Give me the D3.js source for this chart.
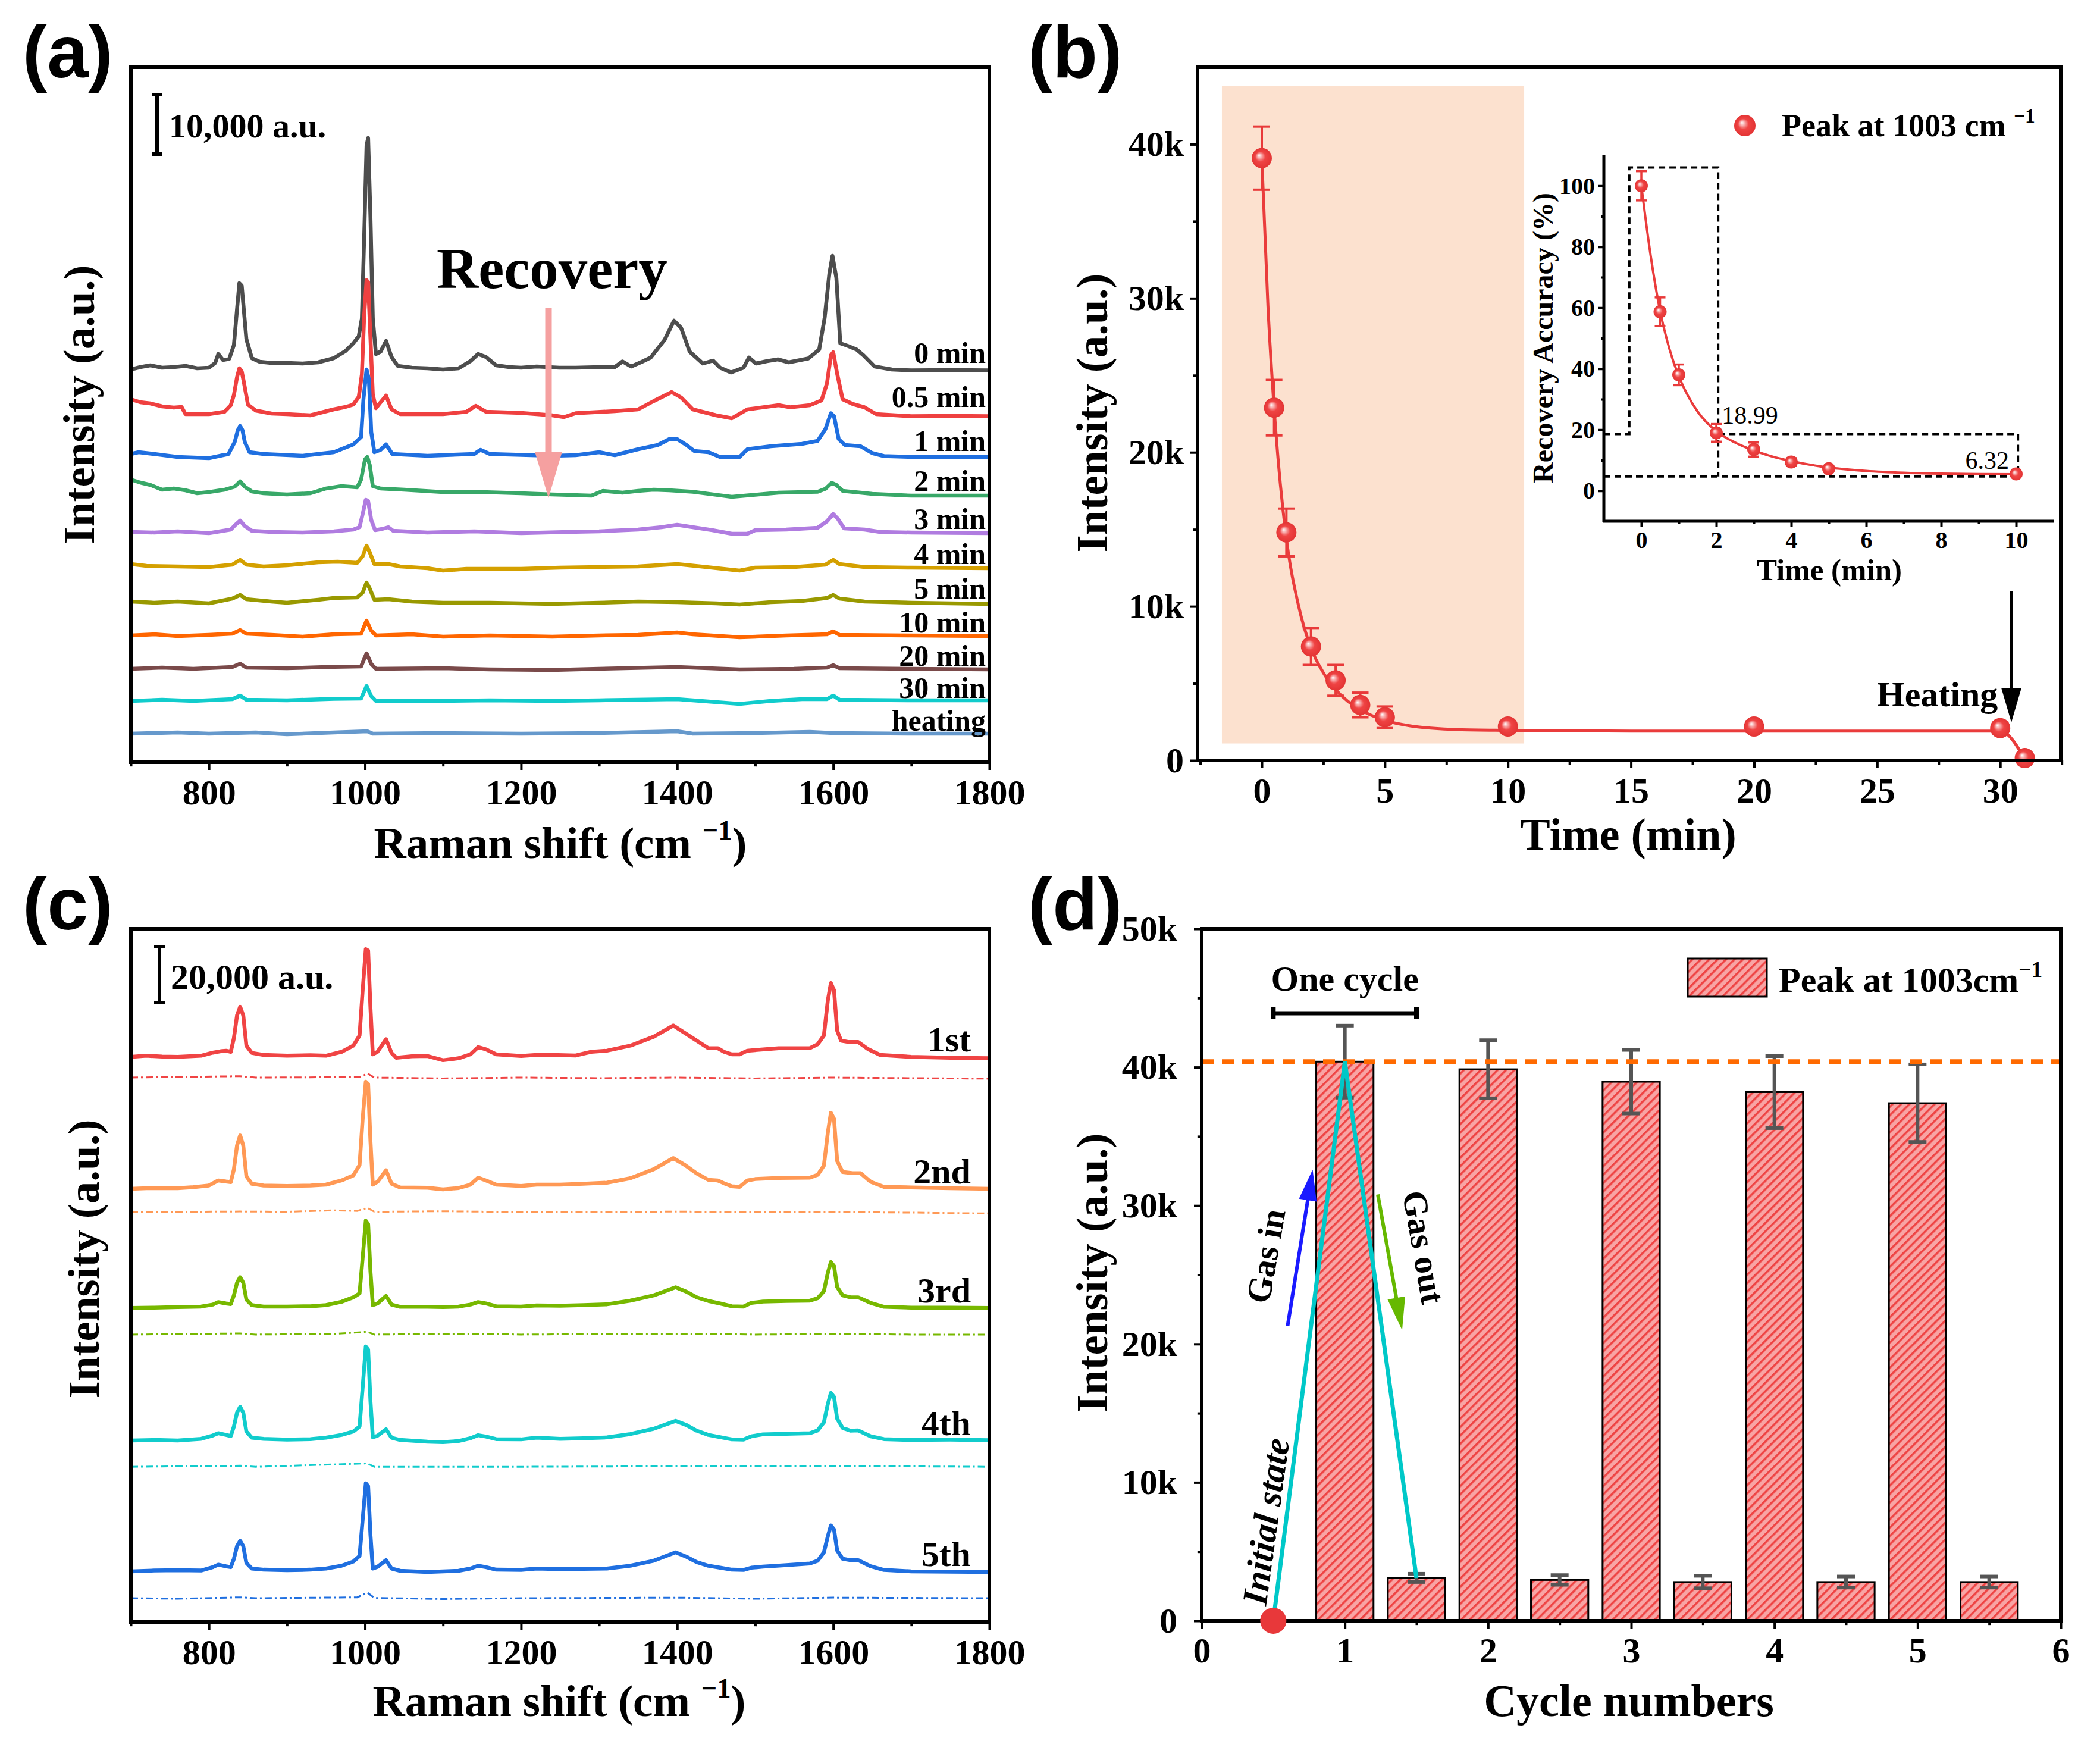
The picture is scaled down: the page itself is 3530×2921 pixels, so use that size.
<!DOCTYPE html>
<html>
<head>
<meta charset="utf-8">
<script src="https://cdn.jsdelivr.net/npm/d3@7"></script>
<style>
body { margin: 0; background: #fff; }
text { font-family: "Liberation Serif", "Times New Roman", serif; font-weight: bold; fill: #000; }
.plabel { font-family: "Liberation Sans", Arial, sans-serif; }
.norm { font-weight: normal; }
.ital { font-style: italic; }
</style>
</head>
<body>
<div id="chart"></div>
<script>
// ---------- panel (a): spectra during recovery, [Raman shift, intensity in k a.u.] ----------
var labelsA = ["0 min", "0.5 min", "1 min", "2 min", "3 min", "4 min", "5 min", "10 min", "20 min", "30 min", "heating"]
var offsetsA = [66.6, 59.2, 51.8, 45.1, 38.7, 32.8, 27.0, 21.3, 15.7, 10.3, 4.8]
var colorsA = ["#4d4d4d", "#ef4040", "#1f6fe0", "#38a868", "#b07ce0", "#d4a000", "#999900", "#ff6600", "#7a4a4a", "#11cccc", "#6699cc"]

var specA0 = [[700,-0.6],[712,-0.2],[725,0.1],[740,-0.3],[755,-0.2],[770,0],[785,-0.4],[800,-0.3],[808,0.5],[812,2.0],[818,1.0],[826,1.2],[832,3.5],[836,9.5],[839,13.9],[842,13.5],[845,9.0],[848,4.5],[855,1.3],[865,0.7],[880,0.5],[900,0.5],[920,0.4],[940,0.6],[960,1.3],[975,2.5],[985,3.8],[992,5.0],[996,8.0],[999,22.0],[1002,37.0],[1004,38.3],[1007,25.0],[1010,8.0],[1014,2.0],[1020,2.4],[1027,4.2],[1034,1.5],[1042,0.0],[1060,-0.3],[1080,-0.4],[1100,-0.6],[1120,-0.4],[1135,0.8],[1145,2.0],[1155,1.5],[1168,0.1],[1185,-0.2],[1200,-0.3],[1220,-0.1],[1249,-0.3],[1270,-0.3],[1300,-0.2],[1320,-0.2],[1330,0.75],[1341,-0.1],[1355,0.7],[1366,1.4],[1384,4.4],[1396,7.6],[1405,6.4],[1416,2.4],[1433,0.4],[1446,0.9],[1455,-0.3],[1469,-1.1],[1485,-0.3],[1492,1.4],[1501,0.4],[1515,0.8],[1529,1.1],[1543,0.6],[1568,1.25],[1582,2.75],[1589,8.1],[1595,15.5],[1599,18.5],[1604,14.8],[1609,3.8],[1618,3.4],[1630,2.75],[1639,1.75],[1653,-0.1],[1675,-0.6],[1700,-0.76],[1750,-0.7],[1800,-0.76]]
var specA05 = [[700,1.8],[712,1.3],[725,1.1],[740,0.6],[755,0.4],[765,0.5],[770,-0.7],[800,-0.7],[820,-0.3],[828,0.8],[832,2.5],[836,5.5],[839,7.0],[842,6.5],[845,4.5],[850,0.9],[860,-0.1],[880,-0.6],[900,-0.7],[930,-0.9],[960,0.1],[975,0.5],[985,0.9],[992,2.2],[996,6.0],[999,16.0],[1002,21.8],[1004,21.5],[1007,12.0],[1010,2.6],[1014,0.3],[1020,1.3],[1027,2.4],[1034,0.1],[1045,-0.7],[1100,-0.7],[1130,-0.3],[1142,0.7],[1155,-0.3],[1200,-0.5],[1240,-0.9],[1255,-1.2],[1270,-0.55],[1320,-0.2],[1350,0.1],[1370,1.5],[1393,3.0],[1405,2.1],[1420,0.1],[1450,-0.9],[1470,-1.4],[1490,0.1],[1530,0.8],[1545,0.45],[1570,0.8],[1585,1.6],[1592,4.5],[1597,9.2],[1600,9.7],[1605,6.1],[1612,1.8],[1625,1.0],[1640,0.45],[1655,-0.7],[1700,-1.05],[1750,-1.0],[1800,-1.05]]
var specA1 = [[700,0],[710,0.3],[730,0],[760,-0.5],[800,-0.7],[825,0],[833,2.0],[837,4.0],[840,4.7],[843,4.0],[846,2.0],[852,0.3],[870,0],[920,-0.3],[960,0.3],[985,1.6],[995,2.85],[998,9.2],[1002,14.2],[1005,12.5],[1008,3.7],[1012,0.3],[1020,0.7],[1027,1.6],[1035,0],[1080,-0.3],[1140,0],[1148,0.7],[1160,0],[1240,-0.3],[1270,-0.2],[1300,0.3],[1320,-0.2],[1350,0.8],[1375,1.5],[1390,2.5],[1400,2.5],[1412,1.5],[1422,0.5],[1440,0.3],[1455,-0.5],[1480,-0.5],[1490,0.8],[1520,1.3],[1560,1.7],[1580,2.2],[1590,4.2],[1597,6.85],[1601,6.35],[1607,2.5],[1615,1.5],[1635,1.3],[1650,0.15],[1665,-0.35],[1700,-0.5],[1800,-0.5]]
var specA2 = [[700,2.4],[712,1.9],[725,1.5],[740,0.7],[755,0.9],[770,0.6],[785,0.1],[800,0.3],[820,0.7],[833,1.2],[840,2.1],[846,1.2],[855,0.4],[870,0.1],[900,-0.1],[930,0.1],[950,0.9],[970,1.3],[990,1.1],[995,2.4],[1000,5.8],[1003,6.2],[1006,4.9],[1010,1.3],[1020,0.9],[1050,0.7],[1100,0.3],[1150,0.3],[1200,0.1],[1240,-0.1],[1290,-0.3],[1305,0.5],[1330,0.2],[1350,0.5],[1370,0.7],[1390,0.6],[1420,0.35],[1450,-0.16],[1470,-0.5],[1500,-0.16],[1530,0.2],[1580,0.35],[1590,0.85],[1598,1.85],[1604,1.5],[1612,0.5],[1650,0],[1700,-0.3],[1800,-0.3]]
var specA3 = [[700,0],[730,-0.1],[760,0.1],[800,-0.2],[828,0.4],[834,1.2],[840,1.9],[846,1.0],[855,0.2],[880,0],[920,-0.1],[960,0.1],[985,0.4],[993,0.8],[997,3.0],[1001,5.4],[1004,5.2],[1008,2.0],[1013,0.3],[1022,0.5],[1030,0.8],[1036,0.2],[1080,-0.1],[1140,0.1],[1200,-0.2],[1260,0],[1300,0.1],[1350,0.4],[1380,0.8],[1400,1.2],[1420,0.8],[1445,0.3],[1470,-0.3],[1490,-0.3],[1500,0.3],[1540,0.4],[1580,0.7],[1592,1.8],[1600,3.0],[1606,2.2],[1614,0.6],[1640,0.4],[1660,0],[1700,-0.1],[1800,-0.2]]
var specA4 = [[700,0.5],[720,0.2],[760,0.1],[800,0],[830,0.4],[840,1.2],[848,0.4],[870,0.1],[900,0.3],[940,0.8],[965,0.9],[990,0.7],[997,1.8],[1002,3.6],[1006,2.5],[1012,0.5],[1030,0.5],[1045,0.1],[1080,-0.2],[1100,-0.6],[1130,-0.3],[1200,-0.3],[1250,-0.1],[1300,0],[1350,0.1],[1400,0.5],[1430,0.1],[1480,-0.6],[1500,-0.1],[1550,0],[1590,0.4],[1600,1.2],[1608,0.5],[1640,0],[1700,-0.1],[1800,-0.2]]
var specA5 = [[700,0],[730,-0.2],[760,0],[800,-0.3],[830,0.5],[840,1.1],[848,0.4],[880,0],[900,-0.2],[940,0.3],[960,0.6],[990,0.7],[997,1.5],[1002,3.2],[1006,2.2],[1012,0.3],[1030,0.4],[1060,0],[1100,-0.2],[1160,-0.2],[1240,-0.4],[1300,-0.2],[1350,0],[1400,-0.1],[1450,-0.3],[1480,-0.5],[1520,-0.1],[1560,0.1],[1592,0.6],[1600,1.1],[1608,0.5],[1640,0],[1700,-0.2],[1800,-0.4]]
var specA10 = [[700,0],[730,0.2],[760,-0.1],[800,0.1],[830,0.3],[840,0.9],[848,0.3],[880,0.1],[920,-0.2],[960,0.2],[995,0.3],[1002,2.5],[1008,0.8],[1014,0],[1060,0.2],[1100,-0.2],[1160,0],[1240,-0.2],[1300,0],[1350,0.1],[1400,0.5],[1420,0.2],[1480,-0.3],[1540,0],[1592,0.2],[1600,0.7],[1608,0.1],[1700,0],[1800,-0.1]]
var specA20 = [[700,0],[740,0.2],[780,0],[830,0.3],[840,0.85],[848,0.2],[900,0.1],[950,0.3],[995,0.4],[1002,2.6],[1008,0.8],[1014,0],[1100,0.1],[1160,-0.1],[1240,-0.2],[1300,0],[1400,0.3],[1480,-0.1],[1550,0],[1592,0.2],[1600,0.6],[1608,0.1],[1700,0],[1800,-0.1]]
var specA30 = [[700,0],[740,0.2],[780,0],[830,0.3],[840,0.9],[848,0.2],[900,0.1],[960,0.35],[995,0.4],[1002,2.5],[1008,0.8],[1014,0],[1100,0],[1160,0.1],[1240,0],[1300,0.1],[1400,0.3],[1480,-0.5],[1520,0],[1560,0.3],[1592,0.3],[1600,0.9],[1608,0.2],[1700,0.1],[1800,0.1]]
var specAheat = [[700,0],[760,0.2],[800,0],[860,0.2],[900,-0.1],[960,0.2],[1003,0.4],[1010,0],[1100,0.1],[1200,0],[1300,0.1],[1400,0.4],[1420,0],[1500,0.1],[1570,0.3],[1600,0.1],[1700,0],[1800,0]]
var seriesA = [specA0, specA05, specA1, specA2, specA3, specA4, specA5, specA10, specA20, specA30, specAheat]

// ---------- panel (b): peak intensity vs time ----------
var timeB = [0, 0.5, 1, 2, 3, 4, 5, 10, 20, 30, 31]
var intensityB = [39.1, 22.9, 14.8, 7.4, 5.2, 3.6, 2.8, 2.2, 2.2, 2.1, 0.15]
var errorB = [2.05, 1.8, 1.55, 1.2, 1.0, 0.8, 0.7, 0.35, 0.35, 0.35, 0]
var fitTimeB = [0, 0.25, 0.5, 0.75, 1, 1.5, 2, 2.5, 3, 4, 5, 6, 8, 10, 15, 20, 25, 30, 31]
var fitValueB = [39.1, 29.5, 22.9, 18.0, 14.4, 10.0, 7.3, 5.7, 4.6, 3.3, 2.6, 2.25, 2.0, 1.95, 1.9, 1.9, 1.9, 1.9, 0.1]
var shadeB = [-1.62, 10.66, 1.1, 43.8]   // time from, time to, k from, k to

// inset: recovery accuracy
var timeI = [0, 0.5, 1, 2, 3, 4, 5, 10]
var accuracyI = [100, 58.7, 38.0, 18.99, 13.5, 9.4, 7.2, 5.5]
var errorI = [4.8, 4.7, 3.4, 2.9, 2.3, 1.3, 1.0, 0.8]
var fitTimeI = [0, 0.25, 0.5, 0.75, 1, 1.25, 1.5, 2, 2.5, 3, 3.5, 4, 5, 6, 7, 8, 9, 10]
var fitValueI = [100, 77, 59, 46.5, 37.5, 31, 26, 19.5, 15.8, 13.2, 11.2, 9.7, 7.6, 6.5, 5.9, 5.6, 5.45, 5.4]
var guideI = [[[-1,18.6],[-0.32,18.6],[-0.32,106],[2.05,106],[2.05,4.7]], [[2.05,18.6],[10.05,18.6],[10.05,4.7]], [[-1,4.7],[10.05,4.7]]]

// ---------- panel (c): five cycles ----------
var labelsC = ["1st", "2nd", "3rd", "4th", "5th"]
var offsetsC = [202.1, 154.9, 112.3, 64.9, 18.1]
var dotOffsetsC = [194.7, 146.6, 102.8, 55.5, 8.5]
var colorsC = ["#f04444", "#ff9955", "#77b800", "#11cccc", "#1f6fe0"]

var specC1 = [[700,0],[720,0.4],[740,0.1],[760,0],[790,0.4],[805,1.5],[815,2.0],[822,2.2],[828,1.8],[832,6.7],[836,14.8],[840,17.9],[844,14.8],[848,4.0],[855,1.4],[870,0.7],[900,0.4],[930,0.6],[950,0.4],[970,1.8],[985,4.0],[993,7.6],[997,23.8],[1001,38.5],[1004,38.0],[1007,17.5],[1010,0.9],[1016,1.8],[1027,6.3],[1034,1.4],[1040,-0.3],[1060,0.2],[1080,0.3],[1100,-1.2],[1120,-0.5],[1135,0.9],[1145,3.5],[1155,2.7],[1168,0.9],[1200,0.3],[1220,0.7],[1240,0.7],[1270,0.5],[1290,1.8],[1310,2.2],[1340,4.0],[1370,7.2],[1395,11.2],[1410,8.5],[1425,5.8],[1440,3.1],[1452,3.1],[1460,1.8],[1470,0.9],[1480,0.9],[1490,2.2],[1530,3.1],[1570,3.1],[1580,4.5],[1588,7.6],[1593,20.1],[1597,26.4],[1601,23.8],[1605,9.4],[1610,5.8],[1620,5.3],[1632,5.3],[1645,2.7],[1660,0.7],[1700,0],[1750,-0.3],[1800,-0.5]]
var specC2 = [[700,0],[720,0.2],[740,0.3],[760,0.2],[780,0.6],[800,1.2],[812,3.0],[822,2.6],[828,2.4],[832,7.0],[836,15.5],[840,19.1],[844,15.5],[848,4.5],[855,1.8],[870,1.2],[900,1.0],[930,1.2],[950,1.5],[970,3.0],[985,4.8],[993,8.5],[997,25.0],[1001,38.3],[1004,37.5],[1007,17.0],[1010,1.5],[1016,2.5],[1027,6.6],[1034,1.8],[1045,0.5],[1080,0.4],[1100,-0.2],[1120,0.3],[1135,1.5],[1145,4.0],[1155,3.0],[1168,1.5],[1200,1.0],[1220,1.5],[1250,1.5],[1280,1.8],[1310,2.2],[1340,3.8],[1370,7.0],[1395,11.0],[1410,8.5],[1425,5.5],[1440,3.2],[1452,3.0],[1460,2.0],[1470,0.9],[1480,0.7],[1490,3.0],[1500,3.5],[1530,3.9],[1570,4.0],[1580,5.0],[1588,8.3],[1593,20.0],[1597,27.2],[1601,25.0],[1605,10.0],[1612,6.0],[1625,5.6],[1635,5.6],[1648,2.5],[1665,0.7],[1700,0.5],[1750,0.2],[1800,0.0]]
var specC3 = [[700,0],[730,0.1],[760,0.3],[790,0.5],[805,1.2],[812,2.1],[822,1.6],[828,1.4],[832,4.5],[836,9.0],[840,11.0],[844,9.0],[848,3.0],[855,1.0],[870,0.5],[900,0.5],[930,0.6],[950,1.0],[970,2.2],[985,3.8],[993,5.2],[997,18.0],[1001,31.2],[1004,30.0],[1007,13.0],[1010,1.0],[1016,1.6],[1027,4.3],[1034,1.2],[1045,0.4],[1080,0.4],[1100,0.3],[1120,0.5],[1135,1.2],[1145,2.1],[1155,1.6],[1168,0.6],[1200,0.5],[1220,0.9],[1250,0.8],[1280,1.0],[1310,1.3],[1340,2.6],[1370,4.5],[1398,7.4],[1412,5.8],[1425,3.8],[1440,2.5],[1455,1.6],[1470,0.6],[1485,0.5],[1495,1.8],[1510,2.3],[1540,2.5],[1570,2.6],[1580,3.5],[1588,6.0],[1593,12.5],[1597,16.4],[1601,15.0],[1605,7.5],[1612,4.5],[1622,3.8],[1632,3.8],[1648,1.8],[1665,0.4],[1700,0.1],[1750,0.1],[1800,0]]
var specC4 = [[700,0],[730,0.2],[760,0.0],[790,0.6],[805,1.8],[812,2.6],[822,2.0],[828,1.6],[832,5.0],[836,10.0],[840,12.0],[844,10.0],[848,3.2],[855,1.0],[870,0.6],[900,0.3],[930,0.5],[950,1.0],[970,2.0],[985,3.2],[993,5.0],[997,19.0],[1001,33.6],[1004,32.5],[1007,14.0],[1010,1.2],[1016,1.7],[1027,4.0],[1034,1.0],[1045,0.2],[1080,-0.4],[1100,-0.6],[1120,-0.2],[1135,0.8],[1145,1.9],[1155,1.4],[1168,0.5],[1200,0.4],[1220,1.0],[1250,0.6],[1280,0.8],[1310,1.1],[1340,2.3],[1370,4.2],[1398,7.0],[1412,5.5],[1425,3.5],[1440,2.0],[1455,1.2],[1470,0.4],[1485,0.3],[1495,1.5],[1510,2.2],[1540,2.4],[1570,2.6],[1580,3.6],[1588,6.5],[1593,13.0],[1597,17.0],[1601,15.6],[1605,7.8],[1612,4.5],[1622,3.5],[1632,3.6],[1648,1.5],[1665,0.5],[1700,0.2],[1750,0.3],[1800,0.1]]
var specC5 = [[700,0],[730,0.3],[760,0.4],[790,0.3],[805,1.5],[812,2.4],[822,1.8],[828,1.5],[832,4.5],[836,9.0],[840,10.9],[844,9.0],[848,3.0],[855,1.0],[870,0.6],[900,0.4],[930,0.6],[950,1.0],[970,2.0],[985,3.5],[993,5.5],[997,18.5],[1001,31.5],[1004,30.5],[1007,13.0],[1010,1.0],[1016,1.6],[1027,4.0],[1034,1.0],[1045,0.2],[1080,-0.2],[1100,0.0],[1120,0.2],[1135,1.0],[1145,2.0],[1155,1.5],[1168,0.6],[1200,0.5],[1220,1.0],[1250,0.8],[1280,0.9],[1310,1.0],[1340,2.0],[1370,3.8],[1398,6.8],[1412,5.2],[1425,3.3],[1440,2.0],[1455,1.3],[1470,0.6],[1485,0.5],[1495,1.3],[1510,1.7],[1540,2.2],[1570,2.8],[1580,3.8],[1588,6.8],[1593,12.5],[1597,16.4],[1601,15.0],[1605,7.5],[1612,4.5],[1622,4.0],[1632,4.0],[1648,1.8],[1665,0.5],[1700,0.0],[1750,-0.1],[1800,-0.2]]
var dotC1 = [[700,0],[760,0.2],[840,0.5],[860,0],[950,0.1],[995,0.3],[1003,1.5],[1012,0],[1100,-0.3],[1200,0],[1300,-0.2],[1400,0],[1500,-0.3],[1600,0],[1700,-0.2],[1800,-0.4]]
var dotC2 = [[700,0],[760,0.1],[840,0.2],[900,0.1],[960,0.6],[990,0.4],[1003,1.5],[1012,0.1],[1100,0.3],[1200,0],[1300,-0.1],[1400,0.2],[1500,-0.1],[1600,0],[1700,-0.2],[1800,-0.5]]
var dotC3 = [[700,0],[840,0.4],[860,0],[960,0.2],[1003,1.0],[1012,0],[1145,0.3],[1200,0],[1400,0.3],[1500,0],[1600,0.2],[1700,0],[1800,0]]
var dotC4 = [[700,0],[840,0.4],[860,0],[1003,1.2],[1012,0],[1200,0],[1400,0.2],[1600,0.3],[1800,0]]
var dotC5 = [[700,0],[760,-0.2],[840,0.3],[860,0],[990,0.3],[1003,2.0],[1012,0.1],[1100,-0.3],[1200,0],[1400,0.2],[1500,-0.2],[1600,0.2],[1800,0]]
var seriesC = [specC1, specC2, specC3, specC4, specC5]
var dotsC = [dotC1, dotC2, dotC3, dotC4, dotC5]

// ---------- panel (d): cycle bars ----------
var cycleX = [1, 1.5, 2, 2.5, 3, 3.5, 4, 4.5, 5, 5.5]
var cycleValue = [40.4, 3.1, 39.85, 2.95, 38.95, 2.8, 38.2, 2.8, 37.4, 2.8]
var cycleError = [2.6, 0.3, 2.1, 0.35, 2.3, 0.45, 2.6, 0.4, 2.8, 0.4]
var cyclePath = [[0.5, 0], [1, 40.4], [1.5, 3.1]]
var refLevelD = 40.4

// ---------- drawing ----------
var svg = d3.select("#chart").append("svg")
    .attr("width", 3530)
    .attr("height", 2921)
    .style("background", "#fff")

var defs = svg.append("defs")
var pat = defs.append("pattern").attr("id", "hatch")
    .attr("patternUnits", "userSpaceOnUse").attr("width", 10).attr("height", 10)
    .attr("patternTransform", "rotate(45)")
pat.append("rect").attr("width", 10).attr("height", 10).attr("fill", "#f8a4a4")
pat.append("rect").attr("width", 3.5).attr("height", 10).attr("fill", "#ee4444")

var ball = defs.append("radialGradient").attr("id", "ball")
    .attr("cx", "50%").attr("cy", "50%").attr("r", "50%").attr("fx", "36%").attr("fy", "36%")
ball.append("stop").attr("offset", "0%").attr("stop-color", "#ffffff")
ball.append("stop").attr("offset", "22%").attr("stop-color", "#f8aaaa")
ball.append("stop").attr("offset", "50%").attr("stop-color", "#ef4444")
ball.append("stop").attr("offset", "100%").attr("stop-color", "#e33434")

function frame(b) {
  svg.append("rect").attr("x", b.l).attr("y", b.t).attr("width", b.r - b.l).attr("height", b.b - b.t)
    .attr("fill", "none").attr("stroke", "#000").attr("stroke-width", 6)
}

function tidy(s, fs) {
  s.attr("font-family", null).attr("font-size", fs)
  s.select(".domain").remove()
  s.selectAll("line").attr("stroke", "#000").attr("stroke-width", 4)
}

function bottomAxis(scale, y, major, minor, fmt, fs, len, pad) {
  svg.append("g").attr("transform", "translate(0," + y + ")")
    .call(d3.axisBottom(scale).tickValues(minor).tickSize(len * 0.55).tickFormat(""))
    .call(tidy, fs)
  svg.append("g").attr("transform", "translate(0," + y + ")")
    .call(d3.axisBottom(scale).tickValues(major).tickSize(len).tickPadding(pad).tickFormat(fmt))
    .call(tidy, fs)
}

function leftAxis(scale, x, major, minor, fmt, fs, len, pad) {
  svg.append("g").attr("transform", "translate(" + x + ",0)")
    .call(d3.axisLeft(scale).tickValues(minor).tickSize(len * 0.55).tickFormat(""))
    .call(tidy, fs)
  svg.append("g").attr("transform", "translate(" + x + ",0)")
    .call(d3.axisLeft(scale).tickValues(major).tickSize(len).tickPadding(pad).tickFormat(fmt))
    .call(tidy, fs)
}

function supText(x, y, pre, sup, post, fs, anchor) {
  var t = svg.append("text").attr("x", x).attr("y", y).attr("font-size", fs)
    .attr("text-anchor", anchor || "start")
  t.append("tspan").text(pre)
  t.append("tspan").attr("dy", -fs * 0.42).attr("font-size", fs * 0.62).text(sup)
  t.append("tspan").attr("dy", fs * 0.42).text(post)
  return t
}

function rotText(cx, cy, angle, str, fs, cls) {
  return svg.append("text").attr("transform", "translate(" + cx + "," + cy + ") rotate(" + angle + ")")
    .attr("text-anchor", "middle").attr("dy", "0.35em").attr("font-size", fs)
    .attr("class", cls || null).text(str)
}

function arrow(x1, y1, x2, y2, color, w, headLen, headW) {
  var dx = x2 - x1, dy = y2 - y1, L = Math.hypot(dx, dy), ux = dx / L, uy = dy / L
  var bx = x2 - ux * headLen, by = y2 - uy * headLen
  svg.append("line").attr("x1", x1).attr("y1", y1).attr("x2", bx + ux * 2).attr("y2", by + uy * 2)
    .attr("stroke", color).attr("stroke-width", w)
  svg.append("polygon")
    .attr("points", [[x2, y2], [bx - uy * headW / 2, by + ux * headW / 2], [bx + uy * headW / 2, by - ux * headW / 2]].map(function(p) { return p.join(",") }).join(" "))
    .attr("fill", color)
}

function panelLabel(x, y, s) {
  svg.append("text").attr("class", "plabel").attr("x", x).attr("y", y).attr("font-size", 124).text(s)
}

function errorBars(data, x, y, color, w, cap) {
  data.forEach(function(d) {
    if (!d[2]) return
    var cx = x(d[0]), y1 = y(d[1] + d[2]), y2 = y(d[1] - d[2])
    svg.append("line").attr("x1", cx).attr("x2", cx).attr("y1", y1).attr("y2", y2).attr("stroke", color).attr("stroke-width", w)
    ;[y1, y2].forEach(function(yy) {
      svg.append("line").attr("x1", cx - cap / 2).attr("x2", cx + cap / 2).attr("y1", yy).attr("y2", yy).attr("stroke", color).attr("stroke-width", w)
    })
  })
}

// ===== (a) =====
var PA = {l: 220, r: 1663, t: 113, b: 1281}
var xa = d3.scaleLinear().domain([700, 1800]).range([PA.l, PA.r])
var ya = d3.scaleLinear().domain([0, 116.8]).range([PA.b, PA.t])

seriesA.forEach(function(s, i) {
  svg.append("path").datum(s)
    .attr("d", d3.line().x(function(d) { return xa(d[0]) }).y(function(d) { return ya(offsetsA[i] + d[1]) }))
    .attr("fill", "none").attr("stroke", colorsA[i]).attr("stroke-width", 6.5).attr("stroke-linejoin", "round")
})
labelsA.forEach(function(l, i) {
  svg.append("text").attr("x", 1657).attr("y", ya(offsetsA[i]) - 5).attr("text-anchor", "end")
    .attr("font-size", 50).text(l)
})
frame(PA)
bottomAxis(xa, PA.b, [800, 1000, 1200, 1400, 1600, 1800], [700, 900, 1100, 1300, 1500, 1700], d3.format("d"), 60, 13, 15)
panelLabel(38, 130, "(a)")
rotText(132, 680, -90, "Intensity (a.u.)", 75)
supText(942, 1442, "Raman shift (cm ", "\u22121", ")", 75, "middle")

// scale bar 10,000 a.u.
var barA = ya(0) - ya(10)
svg.append("line").attr("x1", 264).attr("x2", 264).attr("y1", 159).attr("y2", 159 + barA).attr("stroke", "#000").attr("stroke-width", 6)
;[159, 159 + barA].forEach(function(yy) {
  svg.append("line").attr("x1", 255).attr("x2", 273).attr("y1", yy).attr("y2", yy).attr("stroke", "#000").attr("stroke-width", 6)
})
svg.append("text").attr("x", 284).attr("y", 231).attr("font-size", 58).text("10,000 a.u.")
svg.append("text").attr("x", 928).attr("y", 484).attr("text-anchor", "middle").attr("font-size", 97).text("Recovery")
arrow(922, 518, 922, 837, "#f5a0a0", 11, 78, 46)

// ===== (c) =====
var PC = {l: 220, r: 1663, t: 1561, b: 2726}
var xc = d3.scaleLinear().domain([700, 1800]).range([PC.l, PC.r])
var yc = d3.scaleLinear().domain([0, 247.9]).range([PC.b, PC.t])

seriesC.forEach(function(s, i) {
  svg.append("path").datum(s)
    .attr("d", d3.line().x(function(d) { return xc(d[0]) }).y(function(d) { return yc(offsetsC[i] + d[1]) }))
    .attr("fill", "none").attr("stroke", colorsC[i]).attr("stroke-width", 6.5).attr("stroke-linejoin", "round")
  svg.append("path").datum(dotsC[i])
    .attr("d", d3.line().x(function(d) { return xc(d[0]) }).y(function(d) { return yc(dotOffsetsC[i] + d[1]) }))
    .attr("fill", "none").attr("stroke", colorsC[i]).attr("stroke-width", 3).attr("stroke-dasharray", "12,5,3,5")
  svg.append("text").attr("x", 1632).attr("y", yc(offsetsC[i]) - 9).attr("text-anchor", "end")
    .attr("font-size", 60).text(labelsC[i])
})
frame(PC)
bottomAxis(xc, PC.b, [800, 1000, 1200, 1400, 1600, 1800], [700, 900, 1100, 1300, 1500, 1700], d3.format("d"), 60, 13, 15)
panelLabel(38, 1562, "(c)")
rotText(140, 2116, -90, "Intensity (a.u.)", 75)
supText(940, 2884, "Raman shift (cm ", "\u22121", ")", 75, "middle")

var barC = yc(0) - yc(20)
svg.append("line").attr("x1", 268).attr("x2", 268).attr("y1", 1591).attr("y2", 1591 + barC).attr("stroke", "#000").attr("stroke-width", 6)
;[1591, 1591 + barC].forEach(function(yy) {
  svg.append("line").attr("x1", 259).attr("x2", 277).attr("y1", yy).attr("y2", yy).attr("stroke", "#000").attr("stroke-width", 6)
})
svg.append("text").attr("x", 287).attr("y", 1662).attr("font-size", 60).text("20,000 a.u.")

// ===== (b) =====
var PB = {l: 2013, r: 3464, t: 113, b: 1278}
var xb = d3.scaleLinear().domain([-2.61, 32.46]).range([PB.l, PB.r])
var yb = d3.scaleLinear().domain([0, 45]).range([PB.b, PB.t])

svg.append("rect").attr("x", xb(shadeB[0])).attr("width", xb(shadeB[1]) - xb(shadeB[0]))
  .attr("y", yb(shadeB[3])).attr("height", yb(shadeB[2]) - yb(shadeB[3])).attr("fill", "#fce1cf")

svg.append("path").datum(d3.zip(fitTimeB, fitValueB))
  .attr("d", d3.line().curve(d3.curveMonotoneX).x(function(d) { return xb(d[0]) }).y(function(d) { return yb(d[1]) }))
  .attr("fill", "none").attr("stroke", "#ea3c3c").attr("stroke-width", 5)
errorBars(d3.zip(timeB, intensityB, errorB), xb, yb, "#e83a3a", 4, 28)
svg.selectAll("circle.ptb").data(d3.zip(timeB, intensityB)).enter().append("circle")
  .attr("class", "ptb").attr("cx", function(d) { return xb(d[0]) }).attr("cy", function(d) { return yb(d[1]) })
  .attr("r", 17).attr("fill", "url(#ball)")

frame(PB)
bottomAxis(xb, PB.b, [0, 5, 10, 15, 20, 25, 30], [-2.5, 2.5, 7.5, 12.5, 17.5, 22.5, 27.5, 32.5], d3.format("d"), 60, 13, 15)
leftAxis(yb, PB.l, [0, 10, 20, 30, 40], [5, 15, 25, 35], function(d) { return d === 0 ? "0" : d + "k" }, 60, 13, 10)
panelLabel(1728, 130, "(b)")
rotText(1835, 694, -90, "Intensity (a.u.)", 75)
svg.append("text").attr("x", 2737).attr("y", 1428).attr("text-anchor", "middle").attr("font-size", 76).text("Time (min)")

// legend
svg.append("circle").attr("cx", 2933).attr("cy", 211).attr("r", 18).attr("fill", "url(#ball)")
supText(2995, 229, "Peak at 1003 cm ", "\u22121", "", 54)

// heating arrow
svg.append("text").attr("x", 3155).attr("y", 1187).attr("font-size", 60).text("Heating")
arrow(3381, 994, 3381, 1214, "#000", 6, 58, 34)

// inset
var PI = {l: 2696, r: 3452, t: 261, b: 876}
var xi = d3.scaleLinear().domain([-1, 11]).range([PI.l, PI.r])
var yi = d3.scaleLinear().domain([-10, 110]).range([PI.b, PI.t])
guideI.forEach(function(g) {
  svg.append("path").datum(g)
    .attr("d", d3.line().x(function(d) { return xi(d[0]) }).y(function(d) { return yi(d[1]) }))
    .attr("fill", "none").attr("stroke", "#000").attr("stroke-width", 4).attr("stroke-dasharray", "11,7")
})
svg.append("path").datum(d3.zip(fitTimeI, fitValueI))
  .attr("d", d3.line().curve(d3.curveMonotoneX).x(function(d) { return xi(d[0]) }).y(function(d) { return yi(d[1]) }))
  .attr("fill", "none").attr("stroke", "#ea3c3c").attr("stroke-width", 4)
errorBars(d3.zip(timeI, accuracyI, errorI), xi, yi, "#e83a3a", 3.5, 18)
svg.selectAll("circle.pti").data(d3.zip(timeI, accuracyI)).enter().append("circle")
  .attr("class", "pti").attr("cx", function(d) { return xi(d[0]) }).attr("cy", function(d) { return yi(d[1]) })
  .attr("r", 11).attr("fill", "url(#ball)")
svg.append("line").attr("x1", PI.l).attr("x2", PI.l).attr("y1", PI.t).attr("y2", PI.b + 2).attr("stroke", "#000").attr("stroke-width", 5)
svg.append("line").attr("x1", PI.l - 2).attr("x2", PI.r).attr("y1", PI.b).attr("y2", PI.b).attr("stroke", "#000").attr("stroke-width", 5)
bottomAxis(xi, PI.b, [0, 2, 4, 6, 8, 10], [1, 3, 5, 7, 9], d3.format("d"), 40, 9, 8)
leftAxis(yi, PI.l, [0, 20, 40, 60, 80, 100], [10, 30, 50, 70, 90], d3.format("d"), 40, 9, 6)
rotText(2593, 568, -90, "Recovery Accuracy (%)", 48)
svg.append("text").attr("x", 3075).attr("y", 975).attr("text-anchor", "middle").attr("font-size", 51).text("Time (min)")
svg.append("text").attr("class", "norm").attr("x", xi(2.05) + 6).attr("y", 712).attr("font-size", 42).text("18.99")
svg.append("text").attr("class", "norm").attr("x", 3377).attr("y", 788).attr("text-anchor", "end").attr("font-size", 42).text("6.32")

// ===== (d) =====
var PD = {l: 2020, r: 3464, t: 1561, b: 2724}
var xd = d3.scaleLinear().domain([0, 6]).range([PD.l, PD.r])
var yd = d3.scaleLinear().domain([0, 50]).range([PD.b, PD.t])

svg.selectAll("rect.bar").data(d3.zip(cycleX, cycleValue)).enter().append("rect")
  .attr("class", "bar")
  .attr("x", function(d) { return xd(d[0] - 0.2) }).attr("width", xd(0.4) - xd(0))
  .attr("y", function(d) { return yd(d[1]) }).attr("height", function(d) { return yd(0) - yd(d[1]) })
  .attr("fill", "url(#hatch)").attr("stroke", "#000").attr("stroke-width", 3)
errorBars(d3.zip(cycleX, cycleValue, cycleError), xd, yd, "#555", 6, 30)

svg.append("line").attr("x1", PD.l).attr("x2", PD.r).attr("y1", yd(refLevelD)).attr("y2", yd(refLevelD))
  .attr("stroke", "#ff6a00").attr("stroke-width", 8).attr("stroke-dasharray", "20,14")
svg.append("path").datum(cyclePath)
  .attr("d", d3.line().x(function(d) { return xd(d[0]) }).y(function(d) { return yd(d[1]) }))
  .attr("fill", "none").attr("stroke", "#00c8c8").attr("stroke-width", 7)

frame(PD)
bottomAxis(xd, PD.b, [0, 1, 2, 3, 4, 5, 6], [0.5, 1.5, 2.5, 3.5, 4.5, 5.5], d3.format("d"), 60, 13, 14)
leftAxis(yd, PD.l, [0, 10, 20, 30, 40, 50], [5, 15, 25, 35, 45], function(d) { return d === 0 ? "0" : d + "k" }, 60, 13, 28)
svg.append("circle").attr("cx", xd(0.5)).attr("cy", yd(0)).attr("r", 22).attr("fill", "#e8383a")
panelLabel(1728, 1562, "(d)")
rotText(1835, 2139, -90, "Intensity (a.u.)", 75)
svg.append("text").attr("x", 2738).attr("y", 2884).attr("text-anchor", "middle").attr("font-size", 76).text("Cycle numbers")

// one cycle bracket
var brY = yd(43.9)
svg.append("line").attr("x1", xd(0.5)).attr("x2", xd(1.5)).attr("y1", brY).attr("y2", brY).attr("stroke", "#000").attr("stroke-width", 7)
;[xd(0.5), xd(1.5)].forEach(function(xx) {
  svg.append("line").attr("x1", xx).attr("x2", xx).attr("y1", brY - 10).attr("y2", brY + 10).attr("stroke", "#000").attr("stroke-width", 8)
})
svg.append("text").attr("x", xd(1)).attr("y", 1665).attr("text-anchor", "middle").attr("font-size", 60).text("One cycle")

// gas arrows
arrow(xd(0.6), yd(21.3), xd(0.775), yd(32.6), "#1a1aff", 6, 52, 30)
arrow(xd(1.23), yd(30.8), xd(1.40), yd(21.0), "#66b800", 6, 55, 30)
rotText(2127, 2111, -80, "Gas in", 58)
rotText(2394, 2096, 80, "Gas out", 58)
rotText(2127, 2557, -82, "Initial state", 60, "ital")

// legend
svg.append("rect").attr("x", 2837).attr("y", 1611).attr("width", 133).attr("height", 64)
  .attr("fill", "url(#hatch)").attr("stroke", "#000").attr("stroke-width", 3)
supText(2990, 1667, "Peak at 1003cm", "\u22121", "", 60)
</script>
</body>
</html>
